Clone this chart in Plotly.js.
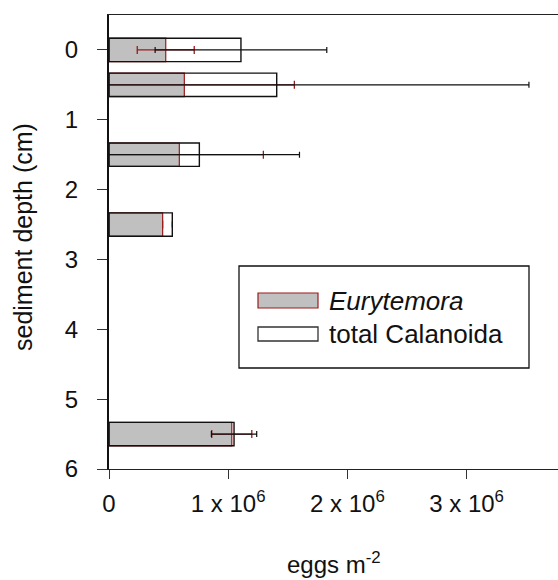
<!DOCTYPE html>
<html>
<head>
<meta charset="utf-8">
<script src="https://cdn.plot.ly/plotly-3.0.1.min.js"></script>
<style>
html,body{margin:0;padding:0;background:#fff;}
#chart{width:558px;height:580px;}
</style>
</head>
<body>
<div id="chart"></div>
<script>
// ---- data ----
var depth = [0, 0.5, 1.5, 2.5, 5.5];                       // sediment depth (cm)
var eurytemora = [476000, 632000, 590000, 450000, 1030000]; // eggs m-2
var eurytemoraErr = [239000, 923000, 705000, null, 168000];
var totalCalanoida = [1107000, 1407000, 758000, 531000, 1049000];
var totalErr = [720000, 2116000, 840000, null, 190000];
var xTickVals = [0, 1000000, 2000000, 3000000];
var xTickText = ['0', '1 x 10<sup>6</sup>', '2 x 10<sup>6</sup>', '3 x 10<sup>6</sup>'];
var yTickVals = [0, 1, 2, 3, 4, 5, 6];
var legendNames = ['<i>Eurytemora</i>', 'total Calanoida'];

// ---- layout geometry (pixels) ----
var W = 558, H = 580;
var L = 109, R = 0, T = 15, B = 111;
var pw = W - L - R, ph = H - T - B;
function px(x){ return (x - L) / pw; }
function py(y){ return (H - B - y) / ph; }

var FONT = 'Liberation Sans, Arial, sans-serif';
var red = '#9a1b1b';

var traces = [
  {
    type: 'bar', orientation: 'h',
    y: depth, x: eurytemora, width: 0.335,
    name: legendNames[0], showlegend: false,
    marker: {color: '#c0c0c0', line: {color: red, width: 1.2}},
    error_x: {type: 'data', array: eurytemoraErr, symmetric: true,
              color: red, thickness: 1.3, width: 4}
  },
  {
    type: 'bar', orientation: 'h',
    y: depth, x: totalCalanoida, width: 0.335,
    name: legendNames[1], showlegend: false,
    marker: {color: 'rgba(255,255,255,0)', line: {color: '#111', width: 1.4}},
    error_x: {type: 'data', array: totalErr, symmetric: true,
              color: '#111', thickness: 1.2, width: 3}
  }
];

var shapes = [
  // legend frame
  {type: 'rect', xref: 'paper', yref: 'paper',
   x0: px(239), x1: px(529), y0: py(266), y1: py(368),
   line: {color: '#111', width: 1.3}, fillcolor: '#fff', layer: 'above'},
  // legend symbols
  {type: 'rect', xref: 'paper', yref: 'paper',
   x0: px(258), x1: px(318), y0: py(293), y1: py(308),
   line: {color: red, width: 1.2}, fillcolor: '#c0c0c0', layer: 'above'},
  {type: 'rect', xref: 'paper', yref: 'paper',
   x0: px(258), x1: px(318), y0: py(327), y1: py(341),
   line: {color: '#333', width: 1.3}, fillcolor: '#fff', layer: 'above'}
];

var annotations = [
  {xref: 'paper', yref: 'paper', x: px(327), y: py(300.5), xanchor: 'left', yanchor: 'middle',
   text: legendNames[0], showarrow: false, font: {family: FONT, size: 26, color: '#111'}},
  {xref: 'paper', yref: 'paper', x: px(327), y: py(334), xanchor: 'left', yanchor: 'middle',
   text: legendNames[1], showarrow: false, font: {family: FONT, size: 26, color: '#111'}},
  {xref: 'paper', yref: 'paper', x: 0.5, y: py(563), xanchor: 'center', yanchor: 'middle',
   text: 'eggs m<sup>-2</sup>', showarrow: false, font: {family: FONT, size: 24, color: '#111'}},
  {xref: 'paper', yref: 'paper', x: px(23), y: py(237), xanchor: 'center', yanchor: 'middle',
   textangle: -90, text: 'sediment depth (cm)', showarrow: false,
   font: {family: FONT, size: 25, color: '#111'}}
];

var layout = {
  width: W, height: H,
  margin: {l: L, r: R, t: T, b: B, pad: 0},
  paper_bgcolor: '#fff', plot_bgcolor: '#fff',
  barmode: 'overlay',
  showlegend: false,
  font: {family: FONT, size: 24, color: '#111'},
  xaxis: {
    range: [0, pw / 119.2 * 1e6],
    tickmode: 'array', tickvals: xTickVals, ticktext: xTickText,
    ticks: 'outside', ticklen: 9, tickwidth: 1, tickcolor: '#333',
    showline: true, linecolor: '#222', linewidth: 1.4, mirror: true,
    showgrid: false, zeroline: false, ticklabelstandoff: 4,
    tickfont: {family: FONT, size: 24, color: '#111'}
  },
  yaxis: {
    range: [6, -0.5],
    tickmode: 'array', tickvals: yTickVals,
    ticks: 'outside', ticklen: 10, tickwidth: 1, tickcolor: '#333',
    showline: true, linecolor: '#111', linewidth: 2, mirror: false,
    showgrid: false, zeroline: false, ticklabelstandoff: 14,
    tickfont: {family: FONT, size: 24, color: '#111'}
  },
  shapes: shapes,
  annotations: annotations
};

Plotly.newPlot('chart', traces, layout, {staticPlot: true, displayModeBar: false});
</script>
</body>
</html>
